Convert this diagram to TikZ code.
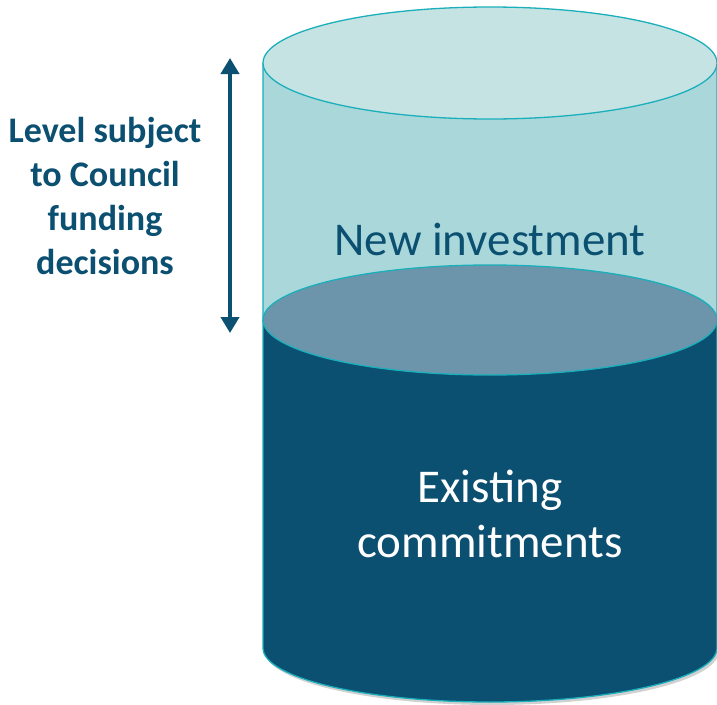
\documentclass[tikz,border=0pt]{standalone}
\usepackage{fontspec}
\setmainfont{Carlito}
\usetikzlibrary{arrows.meta}
\definecolor{darkblue}{HTML}{0B4F71}
\definecolor{midblue}{HTML}{6C94AA}
\definecolor{lightbody}{HTML}{AAD8DA}
\definecolor{lighttop}{HTML}{C6E3E4}
\definecolor{rim}{HTML}{1AAFBA}
\tikzset{
  rimline/.style={draw=rim, line width=1.3pt},
  bigtext/.style={font=\fontsize{47}{55}\selectfont, align=center},
  sidetext/.style={font=\bfseries\fontsize{36}{44}\selectfont, align=center, text=darkblue},
}
\begin{document}
\begin{tikzpicture}[x=1pt,y=-1pt]
\useasboundingbox (0,0) rectangle (717,704);
% soft shadow
\fill[black!18] (265,651) -- (265,323) -- (719,323) -- (719,651) arc[start angle=0,end angle=180,x radius=227,y radius=54] -- cycle;
% light body
\fill[lightbody] (263,63) rectangle (717,320);
% dark body
\fill[darkblue] (263,320) -- (263,648) arc[start angle=180,end angle=0,x radius=227,y radius=54] -- (717,320) -- cycle;
% outlines of sides
\draw[rimline] (263,63) -- (263,648) arc[start angle=180,end angle=0,x radius=227,y radius=54] -- (717,63);
% middle surface
\fill[midblue, rimline] (490,320) ellipse[x radius=227, y radius=55];
% top surface
\fill[lighttop, rimline] (490,63) ellipse[x radius=227, y radius=56];
% texts
\node[bigtext, text=darkblue] (newinv) at (490,240) {New investment};
\node[bigtext, text=white] (exist) at (490,514) {Existing\\commitments};
\node[sidetext] (level) at (105,196) {Level subject\\to Council\\funding\\decisions};
% arrow
\coordinate (atop) at (230,58);
\coordinate (abot) at (230,333);
\draw[darkblue, line width=4pt, {Triangle[width=18pt,length=16pt]}-{Triangle[width=18pt,length=16pt]}] (atop) -- (abot);
\end{tikzpicture}
\end{document}
